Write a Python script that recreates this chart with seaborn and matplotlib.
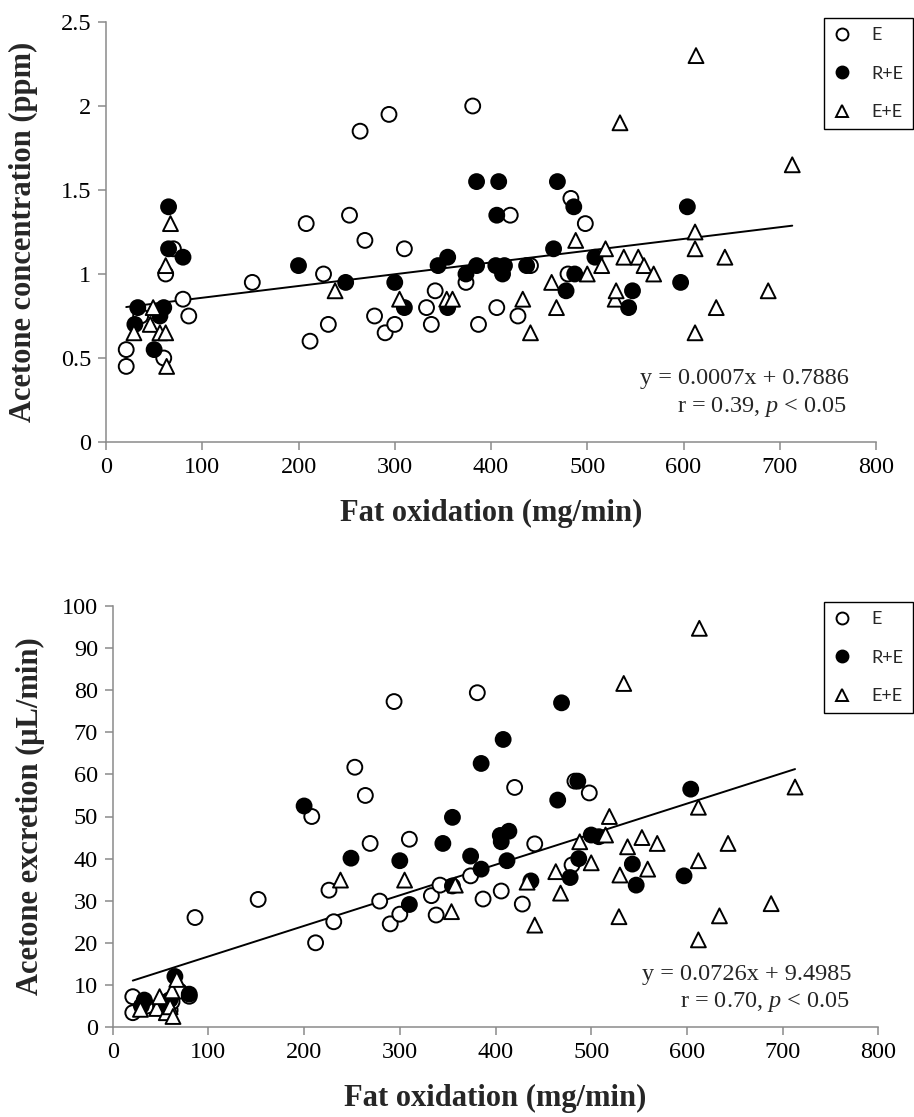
import numpy as np
import pandas as pd
import matplotlib
matplotlib.use("Agg")
import matplotlib.pyplot as plt
import seaborn as sns

groups = ["E", "R+E", "E+E"]

# ---- Top panel: acetone concentration (ppm) vs fat oxidation (mg/min)
e_fat_top = [21, 21, 36, 60, 62, 70, 80, 86, 152, 208, 212, 226, 231, 253, 264, 269, 279, 290,
             294, 300, 310, 333, 338, 342, 374, 381, 387, 406, 420, 428, 441, 480, 483, 498]
e_conc = [0.55, 0.45, 0.75, 0.50, 1.00, 1.15, 0.85, 0.75, 0.95, 1.30, 0.60, 1.00, 0.70, 1.35, 1.85,
          1.20, 0.75, 0.65, 1.95, 0.70, 1.15, 0.80, 0.70, 0.90, 0.95, 2.00, 0.70, 0.80, 1.35, 0.75,
          1.05, 1.00, 1.45, 1.30]
re_fat_top = [30, 33, 50, 56, 60, 65, 65, 80, 200, 249, 300, 310, 345, 355, 355, 374, 385, 385,
              405, 406, 408, 412, 414, 437, 465, 469, 478, 486, 487, 508, 543, 547, 597, 604]
re_conc = [0.70, 0.80, 0.55, 0.75, 0.80, 1.40, 1.15, 1.10, 1.05, 0.95, 0.95, 0.80, 1.05, 1.10, 0.80,
           1.00, 1.05, 1.55, 1.05, 1.35, 1.55, 1.00, 1.05, 1.05, 1.15, 1.55, 0.90, 1.40, 1.00, 1.10,
           0.80, 0.90, 0.95, 1.40]
ee_fat_top = [29, 46, 49, 56, 62, 62, 63, 67, 238, 305, 354, 360, 433, 441, 463, 468, 488, 500,
              515, 519, 529, 530, 534, 538, 553, 559, 569, 612, 612, 612, 613, 634, 643, 688, 713]
ee_conc = [0.65, 0.70, 0.80, 0.65, 0.65, 1.05, 0.45, 1.30, 0.90, 0.85, 0.85, 0.85, 0.85, 0.65, 0.95,
           0.80, 1.20, 1.00, 1.05, 1.15, 0.85, 0.90, 1.90, 1.10, 1.10, 1.05, 1.00, 1.25, 1.15, 0.65,
           2.30, 0.80, 1.10, 0.90, 1.65]

# ---- Bottom panel: acetone excretion (uL/min) vs fat oxidation (mg/min)
e_fat_bot = [21, 21, 36, 60, 62, 70, 80, 86, 152, 208, 212, 226, 231, 253, 264, 269, 279, 290,
             294, 300, 310, 333, 338, 342, 374, 381, 387, 406, 420, 428, 441, 480, 483, 498]
e_exc = [7.2, 3.4, 5.0, 4.0, 6.0, 8.5, 7.3, 26.0, 30.3, 50.0, 20.0, 32.5, 25.0, 61.7, 55.0, 43.6,
         29.9, 24.5, 77.3, 26.8, 44.6, 31.2, 26.6, 33.7, 35.9, 79.4, 30.4, 32.3, 56.9, 29.2, 43.5,
         38.5, 58.4, 55.6]
re_fat_bot = [30, 33, 50, 56, 60, 65, 80, 200, 249, 300, 310, 345, 355, 355, 374, 385, 385, 405,
              406, 408, 412, 414, 437, 465, 469, 478, 486, 487, 500, 508, 543, 547, 597, 604]
re_exc = [5.0, 6.4, 5.0, 6.0, 6.5, 12.0, 7.8, 52.5, 40.1, 39.5, 29.1, 43.6, 49.8, 33.5, 40.6, 37.5,
          62.6, 45.5, 44.0, 68.3, 39.5, 46.5, 34.7, 53.9, 77.0, 35.5, 58.4, 40.0, 45.6, 45.2, 38.7,
          33.7, 35.9, 56.5]
ee_fat_bot = [29, 46, 49, 56, 62, 60, 63, 67, 238, 305, 354, 358, 433, 441, 463, 468, 488, 500,
              515, 519, 529, 530, 534, 538, 553, 559, 569, 612, 612, 612, 613, 634, 643, 688, 713]
ee_exc = [4.2, 4.4, 7.2, 3.4, 8.6, 4.8, 2.5, 11.3, 34.9, 34.9, 27.4, 33.7, 34.4, 24.2, 36.9, 31.8,
          44.0, 39.0, 45.6, 50.0, 26.2, 36.1, 81.6, 42.8, 45.0, 37.5, 43.6, 52.2, 39.5, 20.7, 94.7,
          26.4, 43.6, 29.3, 57.0]

# Trendline equations printed on the chart
conc_slope, conc_intercept = 0.0007, 0.7886
exc_slope, exc_intercept = 0.0726, 9.4985
conc_eq = "y = 0.0007x + 0.7886"
conc_r = "r = 0.39, $p$ < 0.05"
exc_eq = "y = 0.0726x + 9.4985"
exc_r = "r = 0.70, $p$ < 0.05"

x_ticks = list(range(0, 801, 100))
conc_ticks = [0, 0.5, 1, 1.5, 2, 2.5]
conc_ticklabels = ["0", "0.5", "1", "1.5", "2", "2.5"]
exc_ticks = list(range(0, 101, 10))

sns.set_style("ticks")
plt.rcParams["font.family"] = ["Liberation Serif", "DejaVu Serif"]
plt.rcParams["mathtext.fontset"] = "custom"
plt.rcParams["mathtext.rm"] = "Liberation Serif"
plt.rcParams["mathtext.it"] = "Liberation Serif:italic"

W, H = 914, 1117
fig = plt.figure(figsize=(W / 100, H / 100), dpi=100)

palette = {"E": "white", "R+E": "black", "E+E": "white"}
markers = {"E": "o", "R+E": "o", "E+E": "^"}
spine_col = "#8a8a8a"


def make_df(xs, ys):
    rows = []
    for g, xv, yv in zip(groups, xs, ys):
        rows.append(pd.DataFrame({"fat": xv, "val": yv, "group": g}))
    return pd.concat(rows, ignore_index=True)


def panel(rect, df, slope, intercept, ylim, yticks, yticklabels, ylabel, eq, rtxt, eq_y, r_y,
          leg_top):
    ax = fig.add_axes(rect)
    xs = np.array([df["fat"].min(), df["fat"].max()], dtype=float)
    ax.plot(xs, slope * xs + intercept, color="black", lw=1.4, zorder=2)
    sns.scatterplot(data=df, x="fat", y="val", hue="group", style="group",
                    hue_order=groups, style_order=groups, palette=palette, markers=markers,
                    s=115, edgecolor="black", linewidth=1.4, ax=ax, zorder=3)
    ax.set_xlim(0, 800)
    ax.set_ylim(*ylim)
    ax.set_xticks(x_ticks)
    ax.set_xticklabels([str(t) for t in x_ticks])
    ax.set_yticks(yticks)
    ax.set_yticklabels(yticklabels)
    for side in ["top", "right"]:
        ax.spines[side].set_visible(False)
    for side in ["left", "bottom"]:
        ax.spines[side].set_color(spine_col)
        ax.spines[side].set_linewidth(1.1)
    ax.tick_params(direction="out", length=5.5, width=1.1, color=spine_col,
                   labelsize=17.5, labelcolor="black", pad=5)
    ax.set_xlabel("Fat oxidation (mg/min)", fontsize=22, fontweight="bold")
    ax.set_ylabel(ylabel, fontsize=22, fontweight="bold")
    ax.xaxis.set_label_coords(0.5, -0.135)
    ax.yaxis.set_label_coords(-0.088, 0.5)
    ax.text(772, eq_y, eq, ha="right", va="center", fontsize=17.5)
    ax.text(770, r_y, rtxt, ha="right", va="center", fontsize=17.5)

    handles, labels = ax.get_legend_handles_labels()
    leg = ax.legend(handles, labels, loc="upper left",
                    bbox_to_anchor=(824 / W, 1 - leg_top / H), bbox_transform=fig.transFigure,
                    frameon=True, fancybox=False, framealpha=1, edgecolor="black",
                    prop={"family": ["Lato", "DejaVu Sans"], "size": 13},
                    handlelength=1.0, handletextpad=1.15, labelspacing=1.25,
                    borderpad=0.5, markerscale=0.8, borderaxespad=0)
    leg.get_frame().set_linewidth(1.0)
    return ax


df_top = make_df([e_fat_top, re_fat_top, ee_fat_top], [e_conc, re_conc, ee_conc])
df_bot = make_df([e_fat_bot, re_fat_bot, ee_fat_bot], [e_exc, re_exc, ee_exc])

panel([106 / W, 1 - 442 / H, 770 / W, 420 / H], df_top, conc_slope, conc_intercept,
      (0, 2.5), conc_ticks, conc_ticklabels, "Acetone concentration (ppm)",
      conc_eq, conc_r, 0.38, 0.21, 18)
panel([112.7 / W, 1 - 1027 / H, 765.6 / W, 421 / H], df_bot, exc_slope, exc_intercept,
      (0, 100), exc_ticks, [str(t) for t in exc_ticks], "Acetone excretion (\u03bcL/min)",
      exc_eq, exc_r, 12.4, 6.0, 602)

fig.savefig("out.png", dpi=100)
